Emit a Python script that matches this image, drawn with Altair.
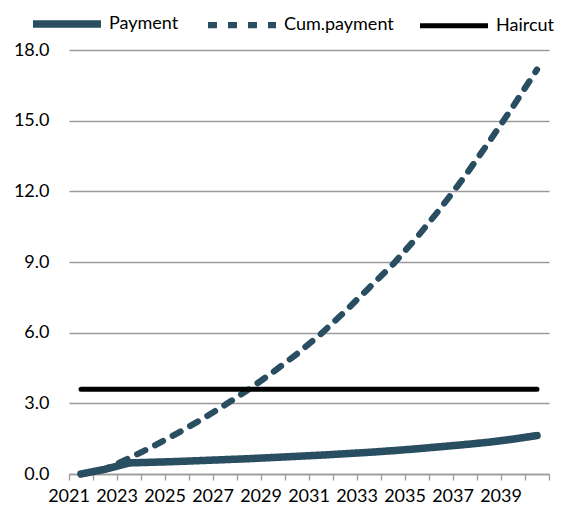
import altair as alt
import pandas as pd

years = [str(y) for y in range(2021, 2041)]
payment = [0.00, 0.20, 0.47, 0.50, 0.53, 0.57, 0.61, 0.65, 0.70, 0.75,
           0.80, 0.86, 0.92, 0.99, 1.07, 1.16, 1.25, 1.35, 1.48, 1.63]
cum_payment = [0.00, 0.20, 0.67, 1.17, 1.72, 2.30, 2.93, 3.60, 4.32, 5.10,
               5.95, 6.90, 7.90, 8.90, 10.05, 11.30, 12.65, 14.10, 15.60, 17.17]
haircut = [3.6] * 20
series_names = ["Payment", "Cum.payment", "Haircut"]
y_ticks = [0, 3, 6, 9, 12, 15, 18]

rows = []
for name, vals in zip(series_names, [payment, cum_payment, haircut]):
    for yr, v in zip(years, vals):
        rows.append({"year": yr, "value": v, "series": name})
df = pd.DataFrame(rows)

DARK = "#294D61"
FONT = "Lato"

chart = alt.Chart(df).mark_line(strokeCap="round", strokeJoin="round").encode(
    x=alt.X(
        "year:O",
        sort=years,
        bandPosition=0.5,
        scale=alt.Scale(type="band", paddingInner=0, paddingOuter=0),
        axis=alt.Axis(
            title=None,
            bandPosition=1,
            tickExtra=True,
            labelOffset=-12,
            labelAngle=0,
            labelExpr="toNumber(datum.value) % 2 == 1 ? datum.label : ''",
            labelFont=FONT,
            labelFontSize=18,
            labelColor="#000000",
            labelPadding=7,
            tickSize=6,
            tickColor="#9a9a9a",
            tickWidth=1.3,
            domainColor="#9a9a9a",
            domainWidth=1.3,
            grid=False,
        ),
    ),
    y=alt.Y(
        "value:Q",
        scale=alt.Scale(domain=[0, 18], nice=False, zero=True),
        axis=alt.Axis(
            title=None,
            values=y_ticks,
            format=".1f",
            labelFont=FONT,
            labelFontSize=18,
            labelColor="#000000",
            labelPadding=20,
            ticks=False,
            domain=False,
            grid=True,
            gridColor="#9a9a9a",
            gridWidth=1.3,
        ),
    ),
    color=alt.Color(
        "series:N",
        scale=alt.Scale(domain=series_names, range=[DARK, DARK, "#000000"]),
        legend=alt.Legend(
            title=None,
            orient="none",
            direction="horizontal",
            columns=3,
            legendX=-40,
            legendY=-64,
            symbolType="stroke",
            symbolSize=4624,
            labelFont=FONT,
            labelFontSize=18,
            labelColor="#000000",
            labelOffset=4,
            columnPadding=16,
        ),
    ),
    strokeDash=alt.StrokeDash(
        "series:N",
        scale=alt.Scale(domain=series_names, range=[[1, 0], [9, 11], [1, 0]]),
    ),
    strokeWidth=alt.StrokeWidth(
        "series:N",
        scale=alt.Scale(domain=series_names, range=[7.5, 5, 4]),
    ),
    order=alt.Order("series:N"),
).properties(
    width=480,
    height=424,
    autosize=alt.AutoSizeParams(type="none"),
    padding={"left": 61, "top": 42, "right": 7, "bottom": 36},
).configure_view(stroke=None)

chart.save("out.html", embed_options={"renderer": "svg", "actions": False})
